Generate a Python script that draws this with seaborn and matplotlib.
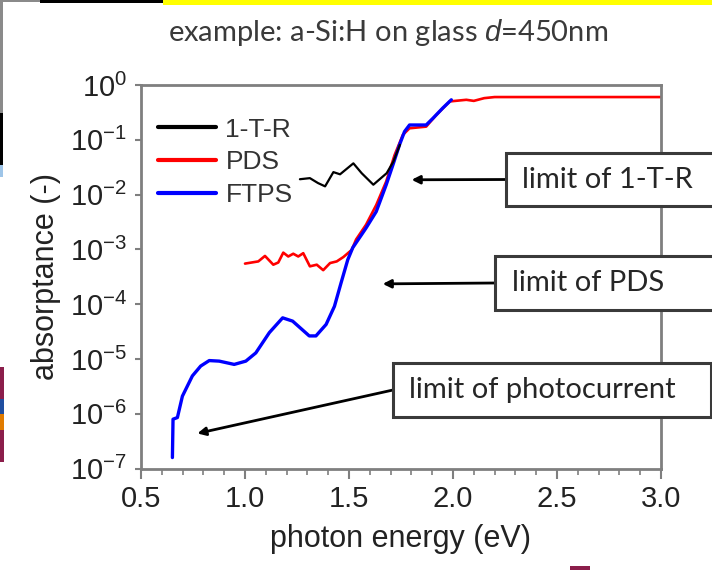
import numpy as np
import pandas as pd
import matplotlib
matplotlib.use("Agg")
import matplotlib.pyplot as plt
from matplotlib.patches import Rectangle
from matplotlib.ticker import LogLocator, MultipleLocator, LogFormatterSciNotation, NullLocator
import seaborn as sns

# ---------------- data ----------------
ftps_energy = [0.651, 0.654, 0.675, 0.699, 0.747, 0.787, 0.828, 0.876, 0.948, 1.004,
               1.052, 1.117, 1.181, 1.229, 1.309, 1.341, 1.390, 1.430, 1.462, 1.494,
               1.518, 1.582, 1.631, 1.679, 1.711, 1.743, 1.767, 1.791, 1.871, 1.903,
               1.951, 1.992]
ftps_log_abs = [-6.80, -6.10, -6.07, -5.68, -5.31, -5.13, -5.03, -5.04, -5.10, -5.04,
                -4.89, -4.52, -4.25, -4.31, -4.58, -4.58, -4.37, -4.04, -3.61, -3.19,
                -2.97, -2.61, -2.31, -1.82, -1.46, -1.09, -0.85, -0.73, -0.73, -0.61,
                -0.42, -0.27]

pds_energy = [1.000, 1.064, 1.096, 1.136, 1.160, 1.184, 1.208, 1.232, 1.256, 1.280,
              1.312, 1.345, 1.376, 1.409, 1.441, 1.473, 1.513, 1.534, 1.582, 1.631,
              1.679, 1.719, 1.759, 1.791, 1.871, 1.919, 1.984, 2.064, 2.100, 2.150,
              2.200, 2.500, 2.800, 3.000]
pds_log_abs = [-3.26, -3.22, -3.12, -3.28, -3.24, -3.06, -3.13, -3.08, -3.13, -3.07,
               -3.31, -3.28, -3.38, -3.25, -3.22, -3.14, -3.01, -2.82, -2.55, -2.19,
               -1.76, -1.28, -0.91, -0.79, -0.76, -0.55, -0.30, -0.27, -0.29, -0.24,
               -0.22, -0.22, -0.22, -0.22]

tr_energy = [1.264, 1.312, 1.351, 1.385, 1.425, 1.457, 1.521, 1.561, 1.617, 1.681,
             1.713, 1.745]
tr_log_abs = [-1.72, -1.70, -1.79, -1.85, -1.59, -1.63, -1.43, -1.61, -1.82, -1.61,
              -1.40, -1.09]

series_names = ["1-T-R", "PDS", "FTPS"]
series_colors = {"1-T-R": "#000000", "PDS": "#ff0000", "FTPS": "#0000ff"}

title_text = "example: a-Si:H on glass $d$=450nm"
x_label = "photon energy (eV)"
y_label = "absorptance (-)"
annotation_texts = ["limit of 1-T-R", "limit of PDS", "limit of photocurrent"]
# arrow tips (energy, log10 absorptance)
annotation_tip_energy = [1.801, 1.662, 0.771]
annotation_tip_log = [-1.73, -3.63, -6.36]

df = pd.concat([
    pd.DataFrame({"energy": tr_energy, "absorptance": np.power(10.0, tr_log_abs), "method": "1-T-R"}),
    pd.DataFrame({"energy": pds_energy, "absorptance": np.power(10.0, pds_log_abs), "method": "PDS"}),
    pd.DataFrame({"energy": ftps_energy, "absorptance": np.power(10.0, ftps_log_abs), "method": "FTPS"}),
], ignore_index=True)

# ---------------- style ----------------
sns.set_style("white")
plt.rcParams["font.family"] = ["Liberation Sans", "DejaVu Sans"]
plt.rcParams["mathtext.fontset"] = "custom"
plt.rcParams["mathtext.rm"] = "Liberation Sans"
plt.rcParams["mathtext.it"] = "Liberation Sans:italic"

W, H = 712, 570
fig = plt.figure(figsize=(W / 100, H / 100), dpi=100)
fig.patch.set_facecolor("white")

def fx(px):
    return px / W

def fy(py):
    return 1 - py / H

ax_l, ax_r, ax_t, ax_b = 141, 661, 85, 468.5
ax = fig.add_axes([fx(ax_l), fy(ax_b), fx(ax_r) - fx(ax_l), (ax_b - ax_t) / H])

widths = {"PDS": 1.9, "FTPS": 2.4, "1-T-R": 1.6}
for name in ["PDS", "FTPS", "1-T-R"]:
    sub = df[df["method"] == name]
    sns.lineplot(data=sub, x="energy", y="absorptance", ax=ax, color=series_colors[name],
                 lw=widths[name], estimator=None, sort=False, label=name)

ax.set_yscale("log")
ax.set_xlim(0.5, 3.0)
ax.set_ylim(1e-7, 1.0)
ax.yaxis.set_major_locator(LogLocator(base=10, numticks=10))
ax.yaxis.set_major_formatter(LogFormatterSciNotation())
ax.yaxis.set_minor_locator(NullLocator())
ax.xaxis.set_major_locator(MultipleLocator(0.5))
ax.xaxis.set_minor_locator(MultipleLocator(0.1))
ax.xaxis.set_major_formatter(matplotlib.ticker.FormatStrFormatter("%.1f"))

spine_col = "#7f7f7f"
for s in ax.spines.values():
    s.set_color(spine_col)
    s.set_linewidth(2.0)
    s.set_visible(True)

ax.tick_params(axis="x", which="major", direction="out", length=7, width=1.5,
               color=spine_col, labelsize=21, labelcolor="#222222", pad=5, bottom=True)
ax.tick_params(axis="x", which="minor", direction="out", length=4, width=1.2,
               color=spine_col, bottom=True)
ax.tick_params(axis="y", which="major", direction="out", length=4, width=1.5,
               color=spine_col, labelsize=21, labelcolor="#222222", pad=6, left=True)

ax.set_xlabel(x_label, fontsize=22, color="#222222", labelpad=8)
ax.set_ylabel(y_label, fontsize=22, color="#222222", labelpad=6)
ax.grid(False)

# legend
handles, labels = ax.get_legend_handles_labels()
order = [labels.index(n) for n in series_names]
leg = ax.legend([handles[i] for i in order], [labels[i] for i in order],
                loc="upper left", bbox_to_anchor=(0.033, 0.915), frameon=False,
                fontsize=19, handlelength=2.2, handletextpad=0.35,
                labelspacing=0.33, borderpad=0, borderaxespad=0)
for t in leg.get_texts():
    t.set_color("#333333")
for lh in leg.get_lines():
    lh.set_linewidth(3.0)

# title
fig.text(fx(388), fy(33), title_text, ha="center", va="center", fontsize=21,
         color="#3a3a3a", family=["Lato", "DejaVu Sans"])

# annotation boxes (pixel boxes: left, top, right, bottom) and text start
boxes = [(506, 153, 730, 206), (495, 256, 730, 310), (393, 363, 711, 417)]
text_left = [522, 512, 409]
for (bl, bt, br, bb), tl, txt, ex, ey in zip(boxes, text_left, annotation_texts,
                                              annotation_tip_energy, annotation_tip_log):
    rect = Rectangle((fx(bl), fy(bb)), fx(br) - fx(bl), (bb - bt) / H,
                     transform=fig.transFigure, facecolor="white", edgecolor="#3a3a3a",
                     lw=2.2, zorder=5)
    fig.patches.append(rect)
    cy = (bt + bb) / 2
    fig.text(fx(tl), fy(cy), txt, ha="left", va="center", fontsize=21,
             color="#262626", family=["Lato", "DejaVu Sans"], zorder=6)
    ax.annotate("", xy=(ex, 10 ** ey), xycoords="data",
                xytext=(fx(bl), fy(cy)), textcoords="figure fraction",
                arrowprops=dict(arrowstyle="-|>", color="black", lw=2.0,
                                mutation_scale=12, shrinkA=0, shrinkB=0),
                annotation_clip=False)

# screenshot edge artifacts
artifacts = [
    (0, 0, 3, 113, "#8a8a8a"), (0, 0, 40, 2, "#8a8a8a"), (40, 0, 163, 2.5, "#000000"),
    (163, 0, 712, 5, "#ffff00"), (0, 113, 3, 165, "#000000"), (0, 165, 3, 177, "#9ec5e8"),
    (0, 367, 4, 399, "#8b1e4b"), (0, 399, 4, 414, "#1f4ea0"), (0, 414, 4, 430, "#e07b00"),
    (0, 430, 4, 462, "#8b1e4b"), (570, 566, 590, 570, "#8b1e4b"),
]
for (l, t, r, b, c) in artifacts:
    fig.patches.append(Rectangle((fx(l), fy(b)), fx(r) - fx(l), (b - t) / H,
                                 transform=fig.transFigure, facecolor=c,
                                 edgecolor="none", zorder=7))

fig.savefig("out.png", dpi=100, facecolor="white")
